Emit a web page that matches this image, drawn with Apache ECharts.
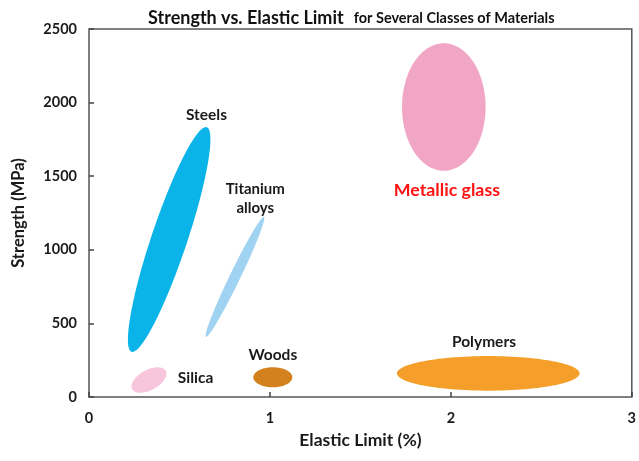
<!DOCTYPE html>
<html>
<head>
<meta charset="utf-8">
<script src="https://cdn.jsdelivr.net/npm/echarts@6/dist/echarts.min.js"></script>
<style>html,body{margin:0;padding:0;background:#fff}#c{width:639px;height:461px}</style>
</head>
<body>
<div id="c"></div>
<script>
// ---- data ----
const materials = ['Steels', 'Titanium alloys', 'Silica', 'Woods', 'Metallic glass', 'Polymers'];
const elasticLow = [0.215, 0.644, 0.235, 0.908, 1.730, 1.702];   // %
const elasticHigh = [0.671, 0.969, 0.428, 1.124, 2.192, 2.711];  // %
const strengthLow = [306, 408, 29, 66, 1537, 43];                // MPa
const strengthHigh = [1834, 1223, 202, 202, 2403, 278];          // MPa
const correlation = [0.89, 0.98, 0.5, 0, 0, 0];
const xTicks = [0, 1, 2, 3];
const yTicks = [0, 500, 1000, 1500, 2000, 2500];

// ---- styles / layout ----
const FONT = 'Lato, "Noto Sans", sans-serif';
const colors = ['#0ab4e8', '#9fd3f1', '#f8c6dc', '#d3811f', '#f2a6c6', '#f59f2a'];
const labelCfg = [
  { text: 'Steels', x: 0.649, y: 1916, color: '#1a1a1a', size: 15.5 },
  { text: 'Titanium\nalloys', x: 0.919, y: 1345, color: '#1a1a1a', size: 15 },
  { text: 'Silica', x: 0.589, y: 127, color: '#1a1a1a', size: 15.5 },
  { text: 'Woods', x: 1.016, y: 285, color: '#1a1a1a', size: 15.5 },
  { text: 'Metallic glass', x: 1.978, y: 1406, color: '#ff1212', size: 17.8 },
  { text: 'Polymers', x: 2.183, y: 376, color: '#1a1a1a', size: 15.5 }
];

const ellipseData = materials.map((m, i) => [
  (elasticLow[i] + elasticHigh[i]) / 2,
  (strengthLow[i] + strengthHigh[i]) / 2,
  (elasticHigh[i] - elasticLow[i]) / 2,
  (strengthHigh[i] - strengthLow[i]) / 2,
  correlation[i], i
]);

function renderEllipse(params, api) {
  const cx = api.value(0), cy = api.value(1), rx = api.value(2), ry = api.value(3), rho = api.value(4);
  const idx = api.value(5);
  const phi = Math.acos(rho);
  const pts = [];
  const N = 120;
  for (let k = 0; k < N; k++) {
    const t = 2 * Math.PI * k / N;
    pts.push(api.coord([cx + rx * Math.cos(t), cy + ry * Math.cos(t - phi)]));
  }
  return {
    type: 'polygon',
    shape: { points: pts, smooth: 0 },
    style: { fill: colors[idx], stroke: null }
  };
}

const chart = echarts.init(document.getElementById('c'), null, { renderer: 'canvas' });
chart.setOption({
  animation: false,
  backgroundColor: '#fff',
  title: {
    text: '{a|Strength vs. Elastic Limit}  {b|for Several Classes of Materials}',
    left: 143, top: 4,
    textStyle: {
      rich: {
        a: { fontFamily: FONT, fontSize: 18, fontWeight: 'bold', color: '#111' },
        b: { fontFamily: FONT, fontSize: 14.5, fontWeight: 'bold', color: '#111' }
      }
    }
  },
  grid: { left: 89, right: 5, top: 29, bottom: 64, show: true, borderColor: '#555', borderWidth: 1.5, backgroundColor: 'transparent' },
  xAxis: {
    type: 'value', min: 0, max: 3, interval: 1,
    name: 'Elastic Limit (%)', nameLocation: 'middle', nameGap: 34,
    nameTextStyle: { fontFamily: FONT, fontSize: 17.5, fontWeight: 'bold', color: '#1a1a1a' },
    axisLine: { show: false },
    axisTick: { show: true, inside: true, length: 5, lineStyle: { color: '#444', width: 1.5 } },
    splitLine: { show: false },
    axisLabel: { fontFamily: FONT, fontSize: 14.5, color: '#1a1a1a', margin: 14, fontWeight: 'bold',
      formatter: v => xTicks.includes(v) ? String(v) : '' }
  },
  yAxis: {
    type: 'value', min: 0, max: 2500, interval: 500,
    name: 'Strength (MPa)', nameLocation: 'middle', nameGap: 62, nameRotate: 90,
    nameTextStyle: { fontFamily: FONT, fontSize: 16.5, fontWeight: 'bold', color: '#1a1a1a' },
    axisLine: { show: false },
    axisTick: { show: true, inside: true, length: 5, lineStyle: { color: '#444', width: 1.5 } },
    splitLine: { show: false },
    axisLabel: { fontFamily: FONT, fontSize: 14.5, color: '#1a1a1a', margin: 12, fontWeight: 'bold', padding: [8, 0, 0, 0],
      formatter: v => yTicks.includes(v) ? String(v) : '' }
  },
  series: [
    {
      type: 'custom',
      renderItem: renderEllipse,
      data: ellipseData,
      encode: { x: 0, y: 1 },
      z: 2
    },
    {
      type: 'scatter',
      symbolSize: 0,
      itemStyle: { opacity: 1 },
      emphasis: { disabled: true },
      data: labelCfg.map(l => ({
        value: [l.x, l.y],
        label: { show: true, position: 'inside', formatter: l.text, fontFamily: FONT, fontSize: l.size,
          fontWeight: 'bold', color: l.color, opacity: 1, lineHeight: 19, align: 'center', verticalAlign: 'middle' }
      })),
      z: 3
    }
  ]
});
</script>
</body>
</html>
